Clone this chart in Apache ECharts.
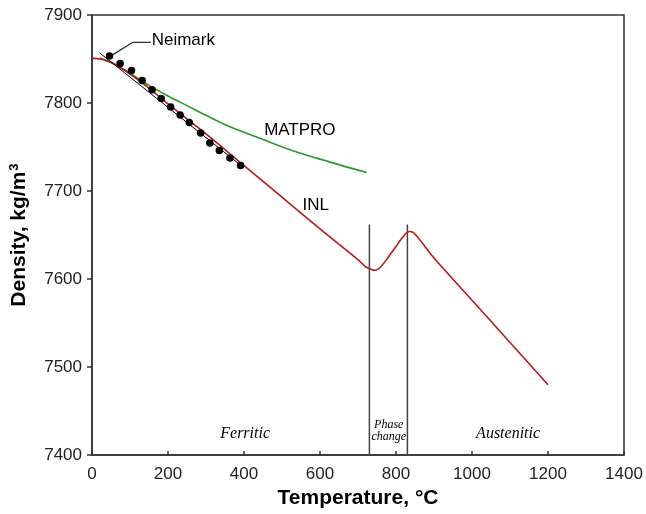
<!DOCTYPE html>
<html>
<head>
<meta charset="utf-8">
<script src="https://cdn.jsdelivr.net/npm/echarts@6/dist/echarts.min.js"></script>
<style>html,body{margin:0;padding:0;background:#fff}#c{width:646px;height:514px}</style>
</head>
<body>
<div id="c"></div>
<script>
// INL density curve (temperature °C, density kg/m3)
const inlT = [0, 20, 40, 60, 100, 150, 200, 300, 400, 500, 600, 700, 720, 735, 745, 760, 780, 800, 820, 835, 845, 860, 900, 1000, 1100, 1200];
const inlD = [7851, 7850, 7848, 7844, 7833, 7817, 7799, 7765, 7729, 7693, 7657, 7622, 7614, 7611, 7610, 7614, 7625, 7637, 7649, 7654, 7653, 7646, 7624, 7576, 7528, 7480];
// MATPRO curve
const matT = [20, 50, 100, 150, 200, 250, 300, 363, 442, 521, 618, 723];
const matD = [7851, 7846, 7834, 7820, 7808, 7797, 7786, 7773, 7760, 7747, 7734, 7721];
// Neimark measured points
const neiT = [46, 74, 104, 132, 158, 182, 207, 232, 256, 286, 310, 335, 363, 391];
const neiD = [7853.5, 7845, 7837, 7825.5, 7815, 7805, 7795.5, 7786.5, 7778, 7766, 7754.5, 7746, 7737.5, 7729];
// Neimark fit line end points
const fitT = [20, 395];
const fitD = [7857, 7728];
// phase boundary temperatures and top of the boundary lines
const phaseT = [730, 830];
const phaseTop = 7662;
// tick values
const xTicks = [0, 200, 400, 600, 800, 1000, 1200, 1400];
const yTicks = [7400, 7500, 7600, 7700, 7800, 7900];
// annotations (data coords)
const leaderT = [155, 108, 55];
const leaderD = [7869, 7869, 7855];
const notes = [
  {text: 'Neimark', t: 157, d: 7871, kind: 'sans', align: 'left'},
  {text: 'MATPRO', t: 547, d: 7768.5, kind: 'sans', align: 'center'},
  {text: 'INL', t: 589, d: 7683.5, kind: 'sans', align: 'center'},
  {text: 'Ferritic', t: 403, d: 7424, kind: 'serif', align: 'center'},
  {text: 'Phase', t: 781, d: 7434, kind: 'small', align: 'center'},
  {text: 'change', t: 781, d: 7420.5, kind: 'small', align: 'center'},
  {text: 'Austenitic', t: 1095, d: 7424, kind: 'serif', align: 'center'}
];

const zip = (a, b) => a.map((v, i) => [v, b[i]]);
const SANS = 'Liberation Sans, Arial, sans-serif';
const SERIF = 'Liberation Serif, Times New Roman, serif';
const styles = {
  sans: {fontFamily: SANS, fontSize: 17, color: '#000'},
  serif: {fontFamily: SERIF, fontSize: 16, fontStyle: 'italic', color: '#000'},
  small: {fontFamily: SERIF, fontSize: 12, fontStyle: 'italic', color: '#000'}
};

const series = [
  {type: 'line', data: zip(inlT, inlD), smooth: 0.3, symbol: 'none', lineStyle: {color: '#b51a1f', width: 1.6}, z: 3},
  {type: 'line', data: zip(matT, matD), smooth: 0.3, symbol: 'none', lineStyle: {color: '#2a9a2a', width: 1.6}, z: 2},
  {type: 'line', data: zip(fitT, fitD), symbol: 'none', lineStyle: {color: '#000', width: 1}, z: 4},
  {type: 'scatter', data: zip(neiT, neiD), symbol: 'circle', symbolSize: 7.5, itemStyle: {color: '#000', opacity: 1}, z: 5},
  {type: 'line', data: zip(leaderT, leaderD), symbol: 'none', lineStyle: {color: '#333', width: 1.3}, z: 4}
];
phaseT.forEach(t => {
  series.push({type: 'line', data: [[t, 7400], [t, phaseTop]], symbol: 'none', lineStyle: {color: '#444', width: 1.5}, z: 2});
});
notes.forEach(n => {
  series.push({
    type: 'scatter', data: [[n.t, n.d]], symbolSize: 0, silent: true, z: 6,
    label: Object.assign({show: true, position: 'inside', formatter: n.text, align: n.align, verticalAlign: 'middle', opacity: 1}, styles[n.kind])
  });
});

const chart = echarts.init(document.getElementById('c'), null, {renderer: 'canvas'});
chart.setOption({
  animation: false,
  backgroundColor: '#fff',
  grid: {left: 92, right: 22, top: 15, bottom: 58, show: true, borderColor: '#333', borderWidth: 1.5, backgroundColor: 'transparent'},
  xAxis: {
    type: 'value', min: xTicks[0], max: xTicks[xTicks.length - 1], interval: 200,
    name: 'Temperature, °C', nameLocation: 'middle', nameGap: 32,
    nameTextStyle: {fontFamily: SANS, fontSize: 21, fontWeight: 'bold', color: '#000'},
    axisLine: {lineStyle: {color: '#333', width: 1.5}},
    axisTick: {inside: true, length: 4, lineStyle: {color: '#333', width: 1.5}},
    axisLabel: {margin: 11, fontFamily: SANS, fontSize: 17, color: '#222', formatter: v => String(v)},
    splitLine: {show: false}
  },
  yAxis: {
    type: 'value', min: yTicks[0], max: yTicks[yTicks.length - 1], interval: 100,
    name: '{a|Density, kg/m}{s|3}', nameLocation: 'middle', nameGap: 62, nameRotate: 90,
    nameTextStyle: {
      rich: {
        a: {fontFamily: SANS, fontSize: 21, fontWeight: 'bold', color: '#000'},
        s: {fontFamily: SANS, fontSize: 13, fontWeight: 'bold', color: '#000', verticalAlign: 'top', padding: [0, 0, 9, 1]}
      }
    },
    axisLine: {show: true, lineStyle: {color: '#333', width: 1.5}},
    axisTick: {show: true, inside: false, length: 5, lineStyle: {color: '#333', width: 1.5}},
    axisLabel: {margin: 10, fontFamily: SANS, fontSize: 17, color: '#222', formatter: v => String(v)},
    splitLine: {show: false}
  },
  series: series
});
</script>
</body>
</html>
